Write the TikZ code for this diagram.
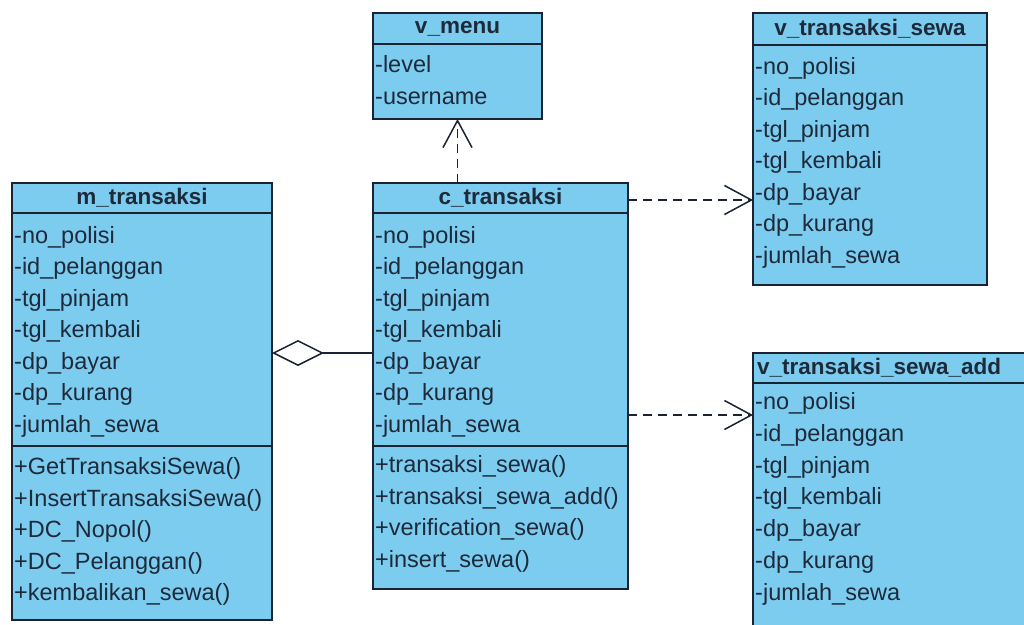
\documentclass[tikz,border=0pt]{standalone}
\usepackage{fontspec}
\setmainfont{Liberation Sans}
\usetikzlibrary{arrows.meta}
\definecolor{classfill}{RGB}{124,204,240}
\definecolor{classline}{RGB}{25,35,50}
\definecolor{classtext}{RGB}{30,42,58}
\tikzset{
  classbox/.style={draw=classline, line width=1.6pt, fill=classfill, anchor=north west,
    inner sep=0pt, outer sep=0pt},
  divider/.style={draw=classline, line width=1.4pt},
  title/.style={font=\fontsize{22.5}{26}\selectfont\bfseries, text=classtext, inner sep=0pt},
  member/.style={font=\fontsize{23.5}{27}\selectfont, text=classtext, anchor=west,
    inner sep=0pt, text height=16pt, text depth=5pt},
  dep/.style={draw=classline, line width=1.5pt, dash pattern=on 9pt off 6pt,
    -{Straight Barb[length=27pt,width=29pt,line width=1.5pt]}},
  agg/.style={draw=classline, line width=1.5pt,
    -{Diamond[open,length=52pt,width=26pt,line width=1.5pt]}},
}
\begin{document}
\begin{tikzpicture}[x=1pt,y=-1pt]
\useasboundingbox (0,0) rectangle (1024,624);
\clip (0,0) rectangle (1024,624);
\fill[white] (0,0) rectangle (1024,624);

% ---- m_transaksi ----
\node[classbox, minimum width=260pt, minimum height=437pt] (m) at (12,183) {};
\draw[divider] (12,213) -- (272,213);
\draw[divider] (12,446) -- (272,446);
\node[title] (m-t) at (142,198) {m\_transaksi};
\foreach \txt [count=\i from 0] in {-no\_polisi,-id\_pelanggan,-tgl\_pinjam,-tgl\_kembali,-dp\_bayar,-dp\_kurang,-jumlah\_sewa}
  \node[member] (m-a\i) at (14,{237.5+31.5*\i}) {\txt};
\foreach \txt [count=\i from 0] in {+GetTransaksiSewa(),+InsertTransaksiSewa(),+DC\_Nopol(),+DC\_Pelanggan(),+kembalikan\_sewa()}
  \node[member] (m-o\i) at (14,{469+31.5*\i}) {\txt};

% ---- v_menu ----
\node[classbox, minimum width=169pt, minimum height=106pt] (vmenu) at (373,13) {};
\draw[divider] (373,44) -- (542,44);
\node[title] (vmenu-t) at (457.5,28.5) {v\_menu};
\node[member] (vmenu-a0) at (375,67) {-level};
\node[member] (vmenu-a1) at (375,98.5) {-username};

% ---- c_transaksi ----
\node[classbox, minimum width=255pt, minimum height=406pt] (c) at (373,183) {};
\draw[divider] (373,213) -- (628,213);
\draw[divider] (373,446) -- (628,446);
\node[title] (c-t) at (500.5,198) {c\_transaksi};
\foreach \txt [count=\i from 0] in {-no\_polisi,-id\_pelanggan,-tgl\_pinjam,-tgl\_kembali,-dp\_bayar,-dp\_kurang,-jumlah\_sewa}
  \node[member] (c-a\i) at (375,{237.5+31.5*\i}) {\txt};
\foreach \txt [count=\i from 0] in {+transaksi\_sewa(),+transaksi\_sewa\_add(),+verification\_sewa(),+insert\_sewa()}
  \node[member] (c-o\i) at (375,{467+31.5*\i}) {\txt};

% ---- v_transaksi_sewa ----
\node[classbox, minimum width=234pt, minimum height=272pt] (vts) at (753,13) {};
\draw[divider] (753,45) -- (987,45);
\node[title] (vts-t) at (870,29) {v\_transaksi\_sewa};
\foreach \txt [count=\i from 0] in {-no\_polisi,-id\_pelanggan,-tgl\_pinjam,-tgl\_kembali,-dp\_bayar,-dp\_kurang,-jumlah\_sewa}
  \node[member] (vts-a\i) at (755,{68.5+31.5*\i}) {\txt};

% ---- v_transaksi_sewa_add (runs past the right and bottom edges) ----
\node[classbox, minimum width=280pt, minimum height=290pt] (vtsa) at (753,353) {};
\draw[divider] (753,383) -- (1033,383);
\node[title, anchor=west] (vtsa-t) at (757,368) {v\_transaksi\_sewa\_add};
\foreach \txt [count=\i from 0] in {-no\_polisi,-id\_pelanggan,-tgl\_pinjam,-tgl\_kembali,-dp\_bayar,-dp\_kurang,-jumlah\_sewa}
  \node[member] (vtsa-a\i) at (755,{404+31.8*\i}) {\txt};

% ---- relationships ----
\coordinate (r1) at (0,200);
\coordinate (r2) at (0,415);
\coordinate (r3) at (0,353);
\draw[dep] (c.north -| vmenu.south) -- (vmenu.south);
\draw[dep] (c.east |- r1) -- (vts.west |- r1);
\draw[dep] (c.east |- r2) -- (vtsa.west |- r2);
\draw[agg] (c.west |- r3) -- (m.east |- r3);
\end{tikzpicture}
\end{document}
